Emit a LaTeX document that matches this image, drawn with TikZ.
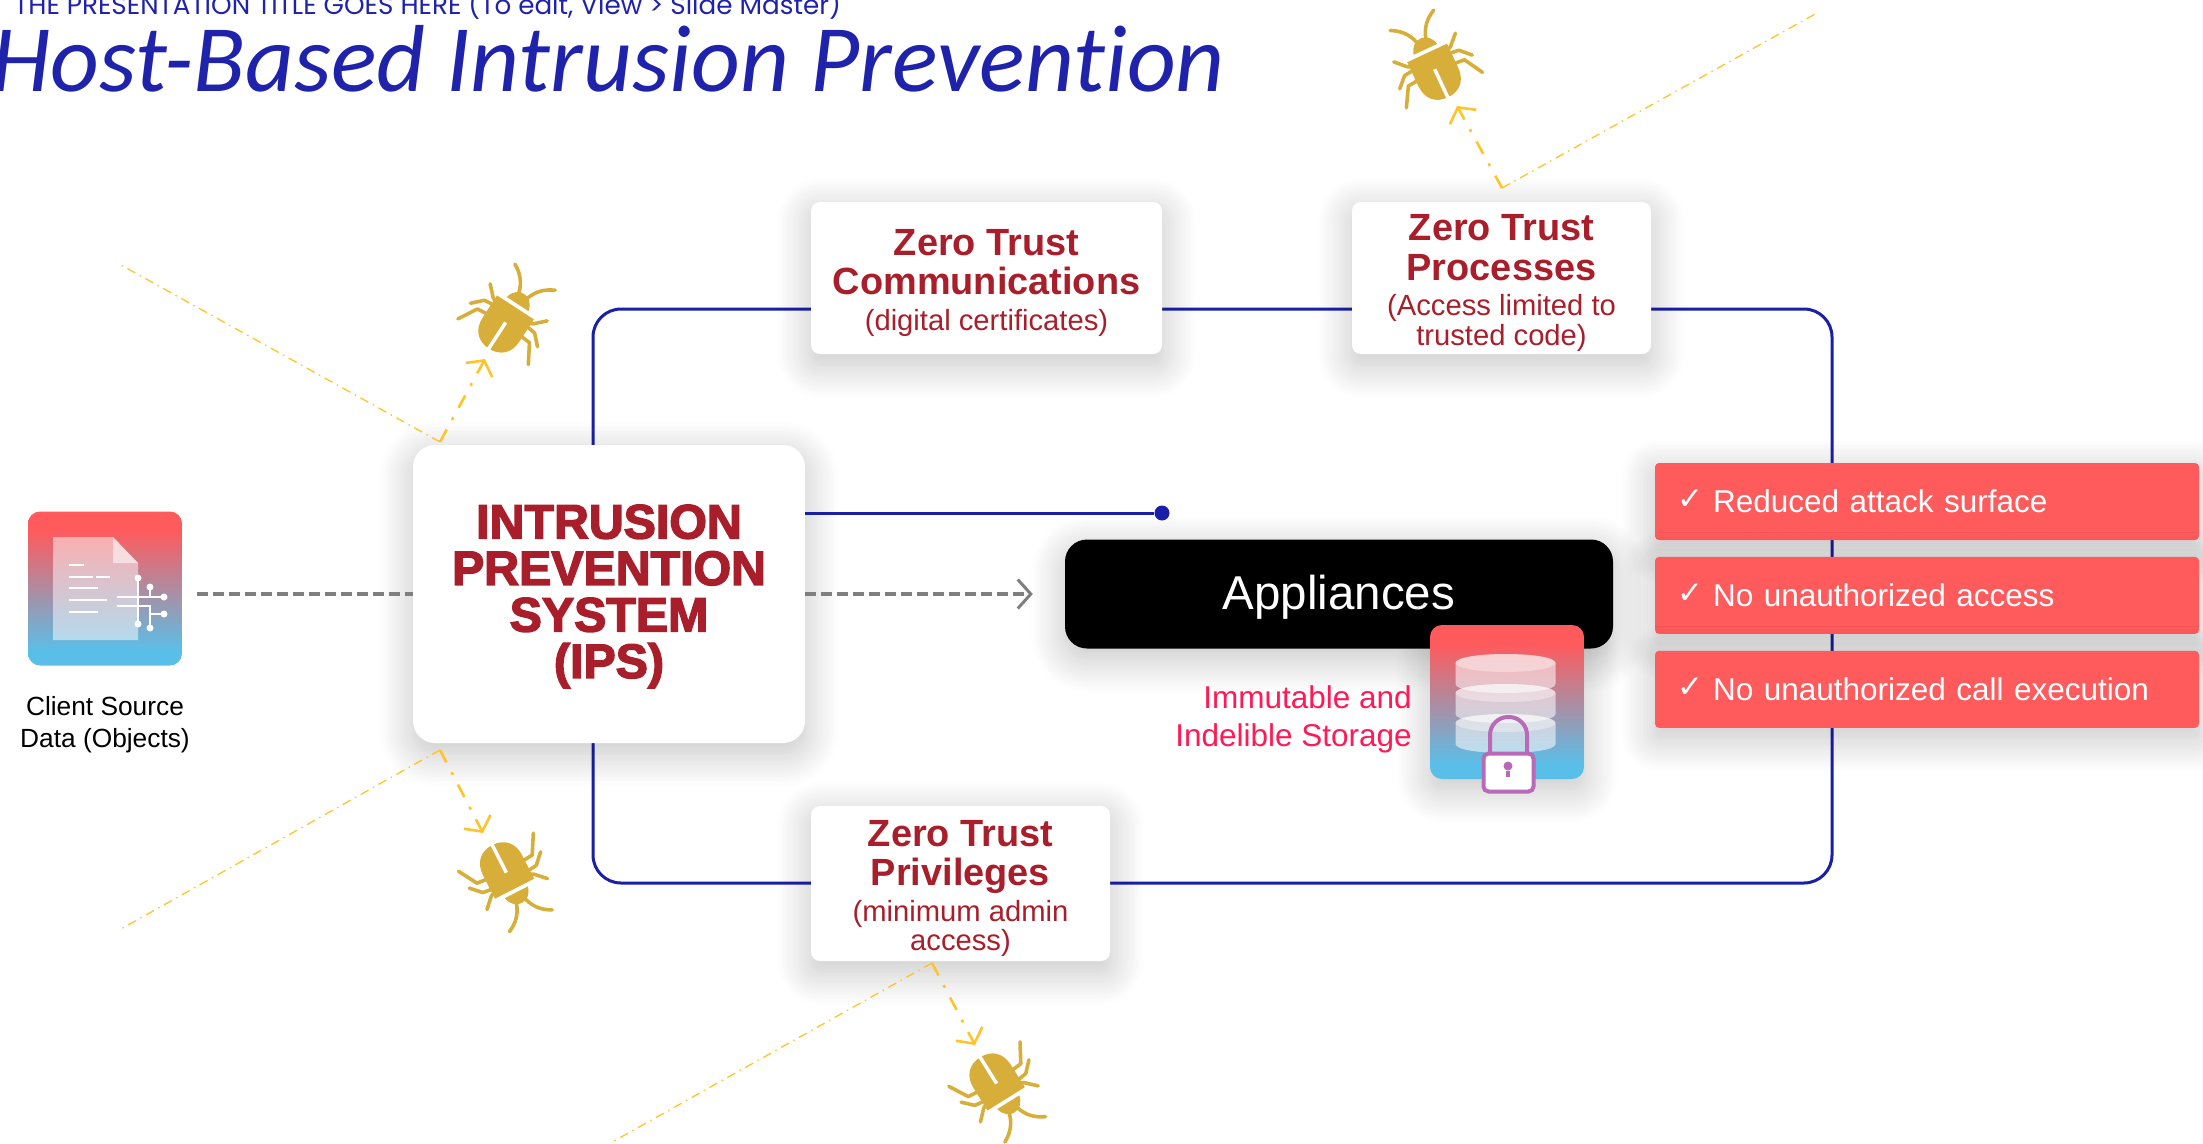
\documentclass[tikz,border=0pt]{standalone}
\usepackage{fontspec}
\setmainfont{Liberation Sans}
\newfontfamily\titlefont[Ligatures=NoCommon]{Carlito}
\newfontfamily\masterfont{Poppins}
\newfontfamily\tickfont{DejaVu Sans}
\newfontfamily\ipsfont[FakeBold=3]{Liberation Sans Bold}
\usetikzlibrary{positioning,arrows.meta,shadows.blur}
\definecolor{loopblue}{HTML}{1A1FA8}
\definecolor{titleblue}{HTML}{1F22AA}
\definecolor{zerored}{HTML}{A81E2A}
\definecolor{coral}{HTML}{FF5A5C}
\definecolor{skyblue}{HTML}{5ABFE8}
\definecolor{bugcolor}{HTML}{D8AE3A}
\definecolor{hityellow}{HTML}{FFC42A}
\definecolor{storepink}{HTML}{FF1A55}
\definecolor{lockpurple}{HTML}{B86AB8}
\definecolor{dashgrey}{HTML}{7F7F7F}
\pgfdeclareverticalshading{iconfade}{100bp}{color(0bp)=(skyblue); color(30bp)=(skyblue); color(69bp)=(coral); color(100bp)=(coral)}
\newcommand{\tick}{\hspace*{22pt}\makebox[36pt][l]{\raisebox{3pt}{\tickfont\fontsize{31}{31}\selectfont ✓}}}
\newcommand{\zsmall}{\mdseries\fontsize{29.2}{31}\selectfont}
\newcommand{\zlift}{\rule{0pt}{36pt}}
\tikzset{
  softshadow/.style = {blur shadow={shadow xshift=0pt, shadow yshift=-10pt,
    shadow blur radius=34pt, shadow blur steps=24, shadow opacity=24}},
  bug/.pic = {
    \fill[bugcolor] (-22,-21) -- (22,-21) -- (22,5) .. controls (22,20) and (13,28) .. (0,28)
      .. controls (-13,28) and (-22,20) .. (-22,5) -- cycle;
    \fill[bugcolor] (-13,-25) -- (13,-25) .. controls (11,-33) and (6,-37) .. (0,-37)
      .. controls (-6,-37) and (-11,-33) .. cycle;
    \draw[white, line width=3.5pt] (0,-3) -- (0,30);
    \foreach \side in {1,-1} {
      \begin{scope}[xscale=\side, bugcolor, line width=3.6pt, line cap=round, line join=round]
        \draw (20,-15) -- (24,-17) -- (34,-27);
        \draw (22,-11) -- (30,-10) -- (40,0);
        \draw (20,0) -- (31,1) -- (42,20);
        \draw (5,-35) .. controls (8,-45) and (14,-52) .. (24,-57);
      \end{scope}}
  },
  drum/.pic = {
    \fill[white, fill opacity=.55] (-50,0) -- (-50,21) .. controls (-50,33) and (50,33) .. (50,21)
      -- (50,0) .. controls (50,-12) and (-50,-12) .. cycle;
    \fill[white, fill opacity=.35] (0,0) ellipse [x radius=50pt, y radius=9pt];
  },
}
\begin{document}
\begin{tikzpicture}[x=1pt, y=-1pt,
  every node/.style = {inner sep=0pt, align=center},
  looprect/.style = {draw=loopblue, line width=3pt, rounded corners=28pt,
    minimum width=1239pt, minimum height=574pt},
  iconbox/.style = {shading=iconfade, rounded corners=12pt,
    minimum width=154pt, minimum height=154pt},
  zerobox/.style = {fill=white, rounded corners=9pt, softshadow, text=zerored,
    minimum height=152pt, font=\fontsize{37.9}{39.5}\selectfont\bfseries},
  ipsbox/.style = {fill=white, rounded corners=22pt, softshadow, text=zerored,
    minimum width=392pt, minimum height=298pt,
    font=\ipsfont\fontsize{48.3}{46.5}\selectfont},
  applianceblock/.style = {fill=black, text=white, rounded corners=22pt, softshadow,
    minimum width=548pt, minimum height=109pt,
    font=\fontsize{47.5}{50}\selectfont},
  checkbox/.style = {fill=coral, text=white, rounded corners=4pt, softshadow, align=left,
    text width=544pt, minimum height=77pt,
    font=\fontsize{31.5}{36}\selectfont},
  hitline/.style = {draw=hityellow, line width=1.3pt,
    dash pattern=on 9pt off 5pt on 1.5pt off 5pt},
  hitarrow/.style = {draw=hityellow, line width=2.6pt,
    dash pattern=on 14pt off 11pt on 3pt off 11pt,
    -{Straight Barb[length=11pt, width=30pt, line width=2.6pt]}},
  flowdash/.style = {draw=dashgrey, line width=3.4pt, dash pattern=on 11pt off 5pt},
  blueline/.style = {draw=loopblue, line width=3pt}]

  \useasboundingbox (0,0) rectangle (2203,1143);

  \node (master) [anchor=base west, text=titleblue] at (14,14)
    {\masterfont\fontsize{26.2}{28}\selectfont THE PRESENTATION TITLE GOES HERE (To edit, View > Slide Master)};
  \node (title) [anchor=base east, text=titleblue] at (1225,91)
    {\titlefont\itshape\fontsize{95.2}{98}\selectfont Host-Based Intrusion Prevention};

  \node (loop) [looprect] at (1212.5,596) {};

  \node (ips) [ipsbox] at (609,594) {\rule{0pt}{38.5pt}INTRUSION\\PREVENTION\\SYSTEM\\(IPS)};

  \node (comms) [zerobox, minimum width=351pt] at (986.5,278)
    {\zlift Zero Trust\\Communications\\[-4pt]\zsmall (digital certificates)};
  \node (procs) [zerobox, minimum width=299pt] at (1501.5,278)
    {\zlift Zero Trust\\Processes\\[-4pt]\zsmall (Access limited to\\[-10pt]\zsmall trusted code)};
  \node (privs) [zerobox, minimum width=299pt, minimum height=155pt] at (960.5,883.5)
    {\zlift Zero Trust\\Privileges\\[-4pt]\zsmall (minimum admin\\[-10pt]\zsmall access)};

  \node (reduced) [checkbox] at (1927,501.5) {\tick Reduced attack surface};
  \node (noaccess) [checkbox, below=16.5pt of reduced] {\tick No unauthorized access};
  \node (nocall) [checkbox, below=16.5pt of noaccess] {\tick No unauthorized call execution};

  \node (appliances) [applianceblock] at (1339,594) {\rule{0pt}{40pt}Appliances};

  \node (client) [iconbox] at (105,588.5) {};
  \fill[white, fill opacity=.5] (53,537) -- (113,537) -- (138,563) -- (138,640) -- (53,640) -- cycle;
  \fill[white, fill opacity=.55] (113,537) -- (138,563) -- (113,563) -- cycle;
  \draw[white, line width=1.6pt]
    (69,565) -- (84,565) (69,577) -- (93,577) (96,577) -- (110,577)
    (69,588) -- (98,588) (69,600) -- (107,600) (69,612) -- (98,612)
    (117,597) -- (164,597) (117,606) -- (150,606) -- (150,628)
    (150,614) -- (164,614) (138,578) -- (138,624) (150,587) -- (150,597);
  \foreach \dx/\dy in {138/578,138/624,150/587,150/628,164/597,164/614}
    \fill[white] (\dx,\dy) circle [radius=3.5pt];

  \node (clientlabel) [below=31pt of client, text=black, font=\fontsize{26.3}{32}\selectfont]
    {Client Source\\Data (Objects)};

  \node (store) [iconbox, softshadow] at (1507,702) {};
  \foreach \cy in {663,693,723}
    \pic at (1505.5,\cy) {drum};
  \draw[lockpurple, line width=4pt, rounded corners=18pt] (1490,755) -- (1490,717) -- (1527,717) -- (1527,755);
  \node (lock) [draw=lockpurple, line width=4pt, fill=white, rounded corners=5pt,
    minimum width=50pt, minimum height=38pt] at (1508.5,772.5) {};
  \node (keyhole) [circle, fill=lockpurple, minimum size=9pt] at (1508,766) {};
  \draw[lockpurple, line width=3.5pt] (keyhole) -- (1508,777);

  \node (storelabel) [anchor=east, align=right, text=storepink, font=\fontsize{31.5}{38}\selectfont]
    at (1412,719) {Immutable and\\Indelible Storage};

  \node (dot) [circle, fill=loopblue, minimum size=15pt] at (1162,513) {};
  \draw[blueline] (dot) -- (dot -| ips.east);

  \draw[flowdash, shorten <=15pt] (ips.west -| client.east) -- (ips.west);
  \draw[flowdash, shorten >=32pt, -{Straight Barb[length=13pt, width=29pt, line width=3pt]}]
    (ips) -- (appliances);

  \coordinate (bugtop) at (1436,72);
  \coordinate (bugup) at (504,325);
  \coordinate (bugdown) at (505,870);
  \coordinate (bugbottom) at (995,1081);
  \pic[rotate=25] at (bugtop) {bug};
  \pic[rotate=-33] at (bugup) {bug};
  \pic[rotate=-153] at (bugdown) {bug};
  \pic[rotate=-148] at (bugbottom) {bug};

  \coordinate (hittop) at (1502,188);
  \coordinate (hitup) at (440,442);
  \coordinate (hitdown) at (440,750);
  \coordinate (hitbottom) at (932,963);
  \coordinate (fartop) at (1817,13);
  \coordinate (farup) at (121,265);
  \coordinate (fardown) at (121,929);
  \coordinate (farbottom) at (614,1141);
  \coordinate (tiptop) at (1457,106);
  \coordinate (tipup) at (485,359);
  \coordinate (tipdown) at (483,833);
  \coordinate (tipbottom) at (975,1045);

  \draw[hitline] (hittop) -- (fartop);
  \draw[hitline] (hitup) -- (farup);
  \draw[hitline] (hitdown) -- (fardown);
  \draw[hitline] (hitbottom) -- (farbottom);
  \draw[hitarrow] (hittop) -- (tiptop);
  \draw[hitarrow] (hitup) -- (tipup);
  \draw[hitarrow] (hitdown) -- (tipdown);
  \draw[hitarrow] (hitbottom) -- (tipbottom);
\end{tikzpicture}
\end{document}
